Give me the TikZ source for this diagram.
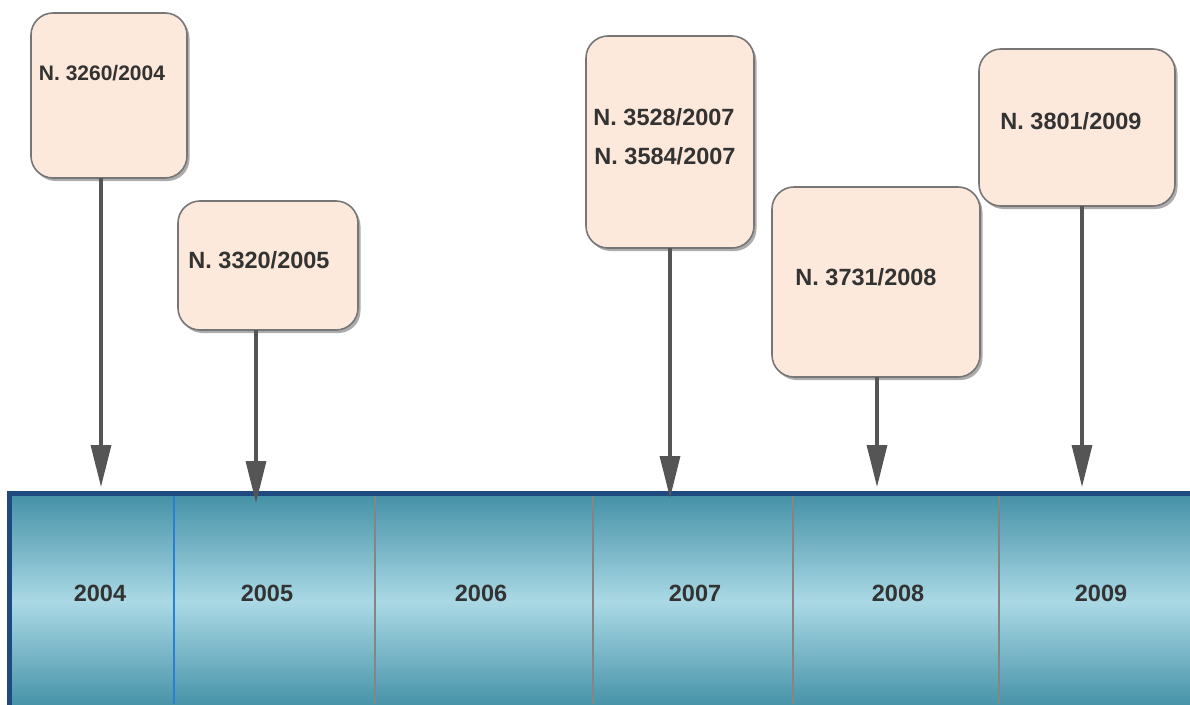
\documentclass[tikz,border=0pt]{standalone}
\usepackage{fontspec}
\setmainfont{Liberation Sans}
\usetikzlibrary{arrows.meta,shadows}
\definecolor{boxfill}{HTML}{FDE9DB}
\definecolor{boxline}{HTML}{767676}
\definecolor{txt}{HTML}{333333}
\definecolor{arrowc}{HTML}{555555}
\definecolor{bandtop}{HTML}{4390A6}
\definecolor{bandmid}{HTML}{AAD9E5}
\definecolor{bandedge}{HTML}{1F4A80}
\definecolor{divblue}{HTML}{2A80D0}
\definecolor{divgray}{HTML}{858585}
\begin{document}
\begin{tikzpicture}[x=1pt,y=-1pt,
  event/.style={draw=boxline, line width=1.6pt, fill=boxfill,
    rounded corners=22pt, inner sep=0pt, outer sep=0pt,
    drop shadow={shadow xshift=2.5pt, shadow yshift=-3pt, opacity=0.65, fill=gray}},
  lbl/.style={anchor=base, inner sep=0pt, text=txt,
    font=\fontsize{23.5}{26}\selectfont\bfseries},
  conn/.style={draw=arrowc, line width=3.2pt,
    -{Triangle[length=42pt,width=20pt]}},
  divider/.style={line width=1.3pt}]
\useasboundingbox (0,0) rectangle (1190,704);

% timeline band
\shade[top color=bandtop, bottom color=bandtop, middle color=bandmid]
  (9,493) rectangle (1200,710);
\draw[bandedge, line width=5pt] (9.5,712) -- (9.5,493) -- (1200,493);
\draw[divider, divblue] (174,496) -- (174,704);
\foreach \x in {375,593,793,999}
  \draw[divider, divgray] (\x,496) -- (\x,704);

% year labels
\node[lbl] (y2004) at (100,601.5) {2004};
\node[lbl] (y2005) at (267,601.5) {2005};
\node[lbl] (y2006) at (481,601.5) {2006};
\node[lbl] (y2007) at (695,601.5) {2007};
\node[lbl] (y2008) at (898,601.5) {2008};
\node[lbl] (y2009) at (1101,601.5) {2009};

% law boxes
\node[event, minimum width=156pt, minimum height=165pt] (b1) at (109,95.5) {};
\node[event, minimum width=180pt, minimum height=129pt] (b2) at (268,265.5) {};
\node[event, minimum width=168pt, minimum height=212pt] (b3) at (670,142) {};
\node[event, minimum width=208pt, minimum height=190pt] (b4) at (876,282) {};
\node[event, minimum width=196pt, minimum height=157pt] (b5) at (1077,127.5) {};

\node[lbl, font=\fontsize{21}{24}\selectfont\bfseries] (n1) at (102,80.5) {N. 3260/2004};
\node[lbl] (n2) at (259,268.3) {N. 3320/2005};
\node[lbl] (n3a) at (664,125.5) {N. 3528/2007};
\node[lbl] (n3b) at (665,164) {N. 3584/2007};
\node[lbl] (n4) at (866,285) {N. 3731/2008};
\node[lbl] (n5) at (1071,129.5) {N. 3801/2009};

% arrow tips on the timeline
\coordinate (t1) at (101,487);
\coordinate (t2) at (256,503);
\coordinate (t3) at (670,498);
\coordinate (t4) at (877,487);
\coordinate (t5) at (1082,487);

\draw[conn] (b1.south -| t1) -- (t1);
\draw[conn] (b2.south -| t2) -- (t2);
\draw[conn] (b3.south -| t3) -- (t3);
\draw[conn] (b4.south -| t4) -- (t4);
\draw[conn] (b5.south -| t5) -- (t5);
\end{tikzpicture}
\end{document}
